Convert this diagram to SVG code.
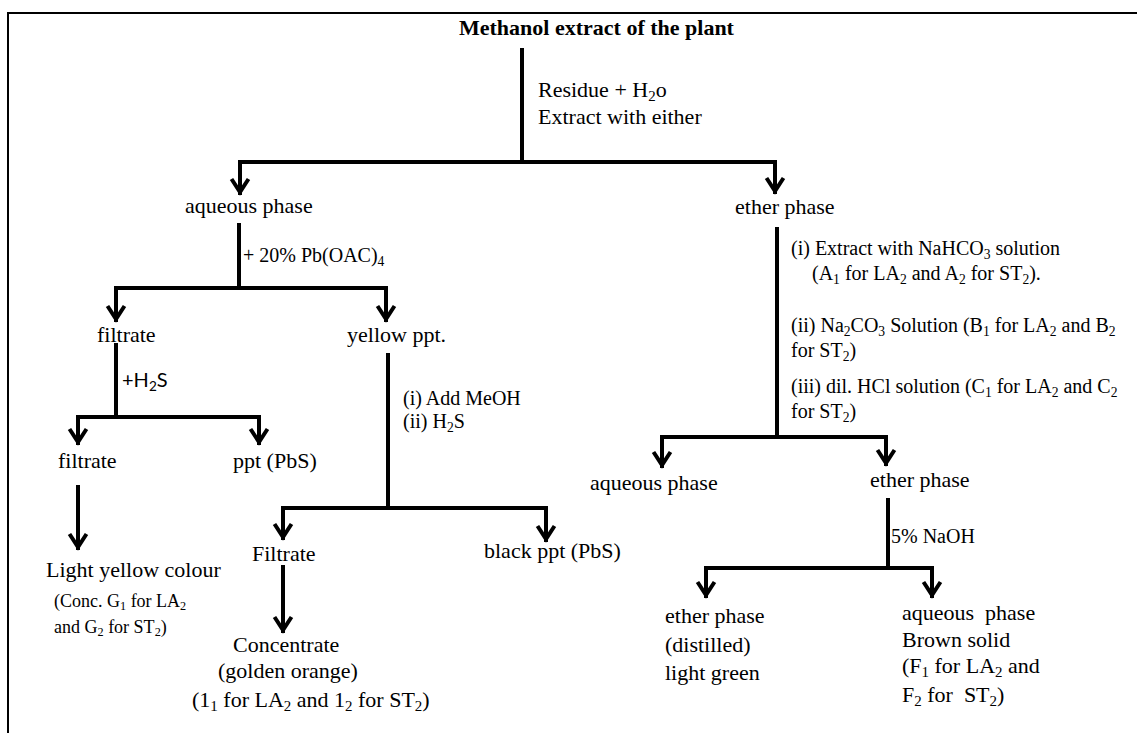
<svg xmlns="http://www.w3.org/2000/svg" width="1137" height="733" viewBox="0 0 1137 733">
<style>
.t{font-family:"Liberation Serif","Times New Roman",serif;font-size:22px;fill:#000}
.b{font-weight:bold}
.c{font-size:20px}
.sm{font-size:18px}
.sans{font-family:Lato,"Liberation Sans",sans-serif;font-size:20px}
.sub{font-size:0.68em}
.ln{fill:none;stroke:#000;stroke-width:4}
.ar{fill:none;stroke:#000;stroke-width:4;marker-end:url(#ah)}
.pre{white-space:pre}
</style>
<defs>
<marker id="ah" markerUnits="userSpaceOnUse" markerWidth="40" markerHeight="40" viewBox="-20 -20 40 40" refX="0" refY="0" orient="auto" overflow="visible">
<path d="M-16,-8.5 L-3,0 L-16,8.5" fill="none" stroke="#000" stroke-width="4"/>
</marker>
</defs>
<rect width="1137" height="733" fill="#fff"/>
<path d="M8,733 V13 H1137" fill="none" stroke="#000" stroke-width="2"/>

<g id="connectors">
<path class="ln" d="M522,48 V162"/>
<path class="ln" d="M238,162 H777"/>
<path class="ar" d="M240,162 V195"/>
<path class="ar" d="M775,162 V194"/>

<path class="ln" d="M239,223 V288"/>
<path class="ln" d="M114,288 H388"/>
<path class="ar" d="M116,288 V322"/>
<path class="ar" d="M386,288 V322"/>

<path class="ln" d="M116,343 V417"/>
<path class="ln" d="M76,417 H261"/>
<path class="ar" d="M78,417 V445"/>
<path class="ar" d="M259,417 V445"/>
<path class="ar" d="M78,485 V550"/>

<path class="ln" d="M388,353 V508"/>
<path class="ln" d="M281,508 H548"/>
<path class="ar" d="M283,508 V540"/>
<path class="ar" d="M546,508 V542"/>
<path class="ar" d="M283,565 V633"/>

<path class="ln" d="M777,227 V437"/>
<path class="ln" d="M660,437 H888"/>
<path class="ar" d="M662,437 V468"/>
<path class="ar" d="M886,437 V466"/>

<path class="ln" d="M888,498 V568"/>
<path class="ln" d="M704,568 H934"/>
<path class="ar" d="M706,568 V598"/>
<path class="ar" d="M932,568 V598"/>
</g>

<g id="n-title"><text class="t b" x="459" y="35">Methanol extract of the plant</text></g>
<g id="l-residue">
<text class="t" x="538" y="97">Residue + H<tspan class="sub" dy="4">2</tspan><tspan dy="-4">o</tspan></text>
<text class="t" x="538" y="124">Extract with either</text>
</g>
<g id="n-aqueous1"><text class="t" x="185" y="213">aqueous phase</text></g>
<g id="n-ether1"><text class="t" x="735" y="214">ether phase</text></g>
<g id="l-pb"><text class="t c" x="243" y="262">+ 20% Pb(OAC)<tspan class="sub" dy="4">4</tspan></text></g>
<g id="n-filtrate1"><text class="t" x="97" y="342">filtrate</text></g>
<g id="n-yellowppt"><text class="t" x="347" y="342">yellow ppt.</text></g>
<g id="l-h2s"><text class="sans" x="122" y="387">+H<tspan class="sub" dy="4">2</tspan><tspan dy="-4">S</tspan></text></g>
<g id="l-meoh">
<text class="t c" x="403" y="405">(i) Add MeOH</text>
<text class="t c" x="403" y="428">(ii) H<tspan class="sub" dy="4">2</tspan><tspan dy="-4">S</tspan></text>
</g>
<g id="n-filtrate2"><text class="t" x="58" y="468">filtrate</text></g>
<g id="n-ppt"><text class="t" x="233" y="468">ppt (PbS)</text></g>
<g id="n-lightyellow">
<text class="t" x="46" y="577">Light yellow colour</text>
<text class="t sm" x="54" y="607">(Conc. G<tspan class="sub" dy="3">1</tspan><tspan dy="-3"> for LA</tspan><tspan class="sub" dy="3">2</tspan></text>
<text class="t sm" x="54" y="633">and G<tspan class="sub" dy="3">2</tspan><tspan dy="-3"> for ST</tspan><tspan class="sub" dy="3">2</tspan><tspan dy="-3">)</tspan></text>
</g>
<g id="n-filtrate3"><text class="t" x="252" y="561">Filtrate</text></g>
<g id="n-blackppt"><text class="t" x="484" y="558">black ppt (PbS)</text></g>
<g id="n-concentrate">
<text class="t" x="233" y="652">Concentrate</text>
<text class="t" x="218" y="678">(golden orange)</text>
<text class="t" x="192" y="707">(1<tspan class="sub" dy="4">1</tspan><tspan dy="-4"> for LA</tspan><tspan class="sub" dy="4">2</tspan><tspan dy="-4"> and 1</tspan><tspan class="sub" dy="4">2</tspan><tspan dy="-4"> for ST</tspan><tspan class="sub" dy="4">2</tspan><tspan dy="-4">)</tspan></text>
</g>
<g id="l-ether-steps">
<text class="t c" x="791" y="255">(i) Extract with NaHCO<tspan class="sub" dy="4">3</tspan><tspan dy="-4"> solution</tspan></text>
<text class="t c" x="812" y="280">(A<tspan class="sub" dy="4">1</tspan><tspan dy="-4"> for LA</tspan><tspan class="sub" dy="4">2</tspan><tspan dy="-4"> and A</tspan><tspan class="sub" dy="4">2</tspan><tspan dy="-4"> for ST</tspan><tspan class="sub" dy="4">2</tspan><tspan dy="-4">).</tspan></text>
<text class="t c" x="791" y="332">(ii) Na<tspan class="sub" dy="4">2</tspan><tspan dy="-4">CO</tspan><tspan class="sub" dy="4">3</tspan><tspan dy="-4"> Solution (B</tspan><tspan class="sub" dy="4">1</tspan><tspan dy="-4"> for LA</tspan><tspan class="sub" dy="4">2</tspan><tspan dy="-4"> and B</tspan><tspan class="sub" dy="4">2</tspan></text>
<text class="t c" x="791" y="357">for ST<tspan class="sub" dy="4">2</tspan><tspan dy="-4">)</tspan></text>
<text class="t c" x="791" y="393">(iii) dil. HCl solution (C<tspan class="sub" dy="4">1</tspan><tspan dy="-4"> for LA</tspan><tspan class="sub" dy="4">2</tspan><tspan dy="-4"> and C</tspan><tspan class="sub" dy="4">2</tspan></text>
<text class="t c" x="791" y="418">for ST<tspan class="sub" dy="4">2</tspan><tspan dy="-4">)</tspan></text>
</g>
<g id="n-aqueous2"><text class="t" x="590" y="490">aqueous phase</text></g>
<g id="n-ether2"><text class="t" x="870" y="487">ether phase</text></g>
<g id="l-naoh"><text class="t c" x="891" y="543">5% NaOH</text></g>
<g id="n-ether3">
<text class="t" x="665" y="623">ether phase</text>
<text class="t" x="665" y="652">(distilled)</text>
<text class="t" x="665" y="680">light green</text>
</g>
<g id="n-aqueous3">
<text class="t pre" x="902" y="620">aqueous  phase</text>
<text class="t" x="902" y="647">Brown solid</text>
<text class="t" x="902" y="673">(F<tspan class="sub" dy="4">1</tspan><tspan dy="-4"> for LA</tspan><tspan class="sub" dy="4">2</tspan><tspan dy="-4"> and</tspan></text>
<text class="t pre" x="902" y="702">F<tspan class="sub" dy="4">2</tspan><tspan dy="-4"> for  ST</tspan><tspan class="sub" dy="4">2</tspan><tspan dy="-4">)</tspan></text>
</g>
</svg>
